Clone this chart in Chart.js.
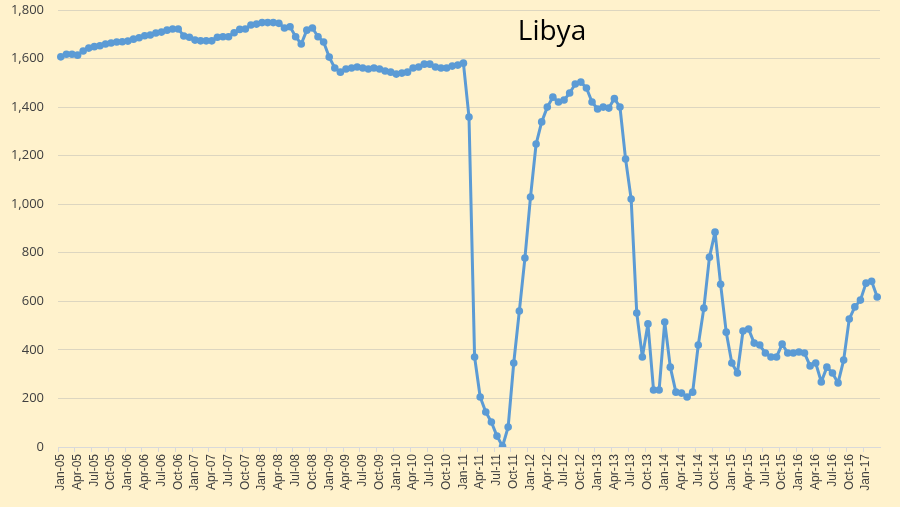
<!DOCTYPE html>
<html>
<head>
<meta charset="utf-8">
<script src="https://cdn.jsdelivr.net/npm/chart.js@4/dist/chart.umd.min.js"></script>
<style>
  html, body { margin: 0; padding: 0; background: #fff2cc; }
  #wrap { width: 900px; height: 507px; position: relative; }
</style>
</head>
<body>
<div id="wrap"><canvas id="libya-chart"></canvas></div>
<script>
(function () {
    'use strict';

    // Month labels Jan-05 .. Mar-17.
    var monthNames = ['Jan', 'Feb', 'Mar', 'Apr', 'May', 'Jun', 'Jul', 'Aug', 'Sep', 'Oct', 'Nov', 'Dec'];
    var years = ['05', '06', '07', '08', '09', '10', '11', '12', '13', '14', '15', '16', '17'];
    var months = [];
    years.forEach(function (y) {
        monthNames.forEach(function (m) {
            if (months.length < 147) months.push(m + '-' + y);
        });
    });

    // Production, thousand barrels per day.
    var production2005_2008 = [
        1607, 1618, 1618, 1614, 1631, 1643, 1649, 1653, 1660, 1664, 1668, 1669,
        1672, 1680, 1686, 1694, 1697, 1705, 1709, 1717, 1722, 1722, 1693, 1688,
        1676, 1673, 1673, 1673, 1688, 1690, 1690, 1706, 1720, 1722, 1738, 1742,
        1748, 1748, 1748, 1745, 1726, 1731, 1690, 1660, 1717, 1726, 1690, 1668
    ];
    var production2009_2012 = [
        1606, 1561, 1544, 1557, 1561, 1565, 1561, 1557, 1561, 1557, 1549, 1544,
        1536, 1540, 1544, 1561, 1565, 1577, 1577, 1565, 1561, 1561, 1569, 1573,
        1581, 1359, 371, 206, 144, 103, 45, 3, 82, 346, 560, 778,
        1030, 1248, 1339, 1400, 1441, 1421, 1429, 1458, 1495, 1503, 1479, 1421
    ];
    var production2013_2017 = [
        1392, 1400, 1396, 1435, 1400, 1186, 1021, 552, 371, 507, 235, 235,
        515, 329, 226, 222, 206, 226, 420, 572, 782, 885, 670, 473,
        346, 305, 478, 486, 428, 420, 387, 371, 371, 424, 387, 387,
        391, 387, 334, 346, 268, 329, 305, 264, 358, 527, 577, 605,
        675, 683, 618
    ];
    var production = production2005_2008.concat(production2009_2012, production2013_2017);

    var yTicks = [0, 200, 400, 600, 800, 1000, 1200, 1400, 1600, 1800];

    // Title sits inside the plot area, like the Excel original.
    var innerTitle = {
        id: 'innerTitle',
        afterDraw: function (chart) {
            var c = chart.ctx;
            c.save();
            c.fillStyle = '#000';
            c.font = '28px "Open Sans", "Liberation Sans", sans-serif';
            c.textAlign = 'center';
            c.textBaseline = 'middle';
            c.fillText('Libya', 552, 32);
            c.restore();
        }
    };

    new Chart(document.getElementById('libya-chart'), {
        type: 'line',
        data: {
            labels: months,
            datasets: [{
                label: 'Libya',
                data: production,
                borderColor: '#5b9bd5',
                backgroundColor: '#5b9bd5',
                borderWidth: 3,
                borderJoinStyle: 'round',
                borderCapStyle: 'round',
                pointRadius: 3.8,
                pointBorderWidth: 0,
                pointBackgroundColor: '#5b9bd5',
                tension: 0
            }]
        },
        options: {
            responsive: true,
            maintainAspectRatio: false,
            animation: false,
            layout: { padding: { top: 10, right: 20, bottom: 0, left: 0 } },
            plugins: {
                legend: { display: false },
                title: { display: false },
                tooltip: { enabled: false }
            },
            scales: {
                x: {
                    offset: true,
                    grid: {
                        offset: true,
                        drawOnChartArea: false,
                        drawTicks: true,
                        tickLength: 5,
                        color: function (ctx) {
                            return ctx.index % 3 === 0 ? '#d9d9d9' : 'rgba(0,0,0,0)';
                        }
                    },
                    border: { display: true, color: '#d9d9d9', width: 1 },
                    ticks: {
                        autoSkip: false,
                        minRotation: 90,
                        maxRotation: 90,
                        padding: 2,
                        color: '#404040',
                        font: { family: '"Liberation Sans", Arial, sans-serif', size: 12 },
                        callback: function (v, i) {
                            return i % 3 === 0 ? months[i] : '';
                        }
                    },
                    afterFit: function (scale) {
                        scale.height = 60;
                        scale.paddingLeft = 0;
                        scale.paddingRight = 0;
                    }
                },
                y: {
                    min: 0,
                    max: 1800,
                    afterBuildTicks: function (scale) {
                        scale.ticks = yTicks.map(function (v) { return { value: v }; });
                    },
                    grid: { color: '#ddd6c0', drawTicks: false },
                    border: { display: false },
                    ticks: {
                        padding: 14,
                        color: '#404040',
                        font: { family: '"Open Sans", "Liberation Sans", sans-serif', size: 13 },
                        callback: function (v) {
                            return v.toLocaleString('en-US');
                        }
                    },
                    afterFit: function (scale) {
                        scale.width = 58;
                        scale.paddingTop = 0;
                        scale.paddingBottom = 0;
                    }
                }
            }
        },
        plugins: [innerTitle]
    });
})();
</script>
</body>
</html>
